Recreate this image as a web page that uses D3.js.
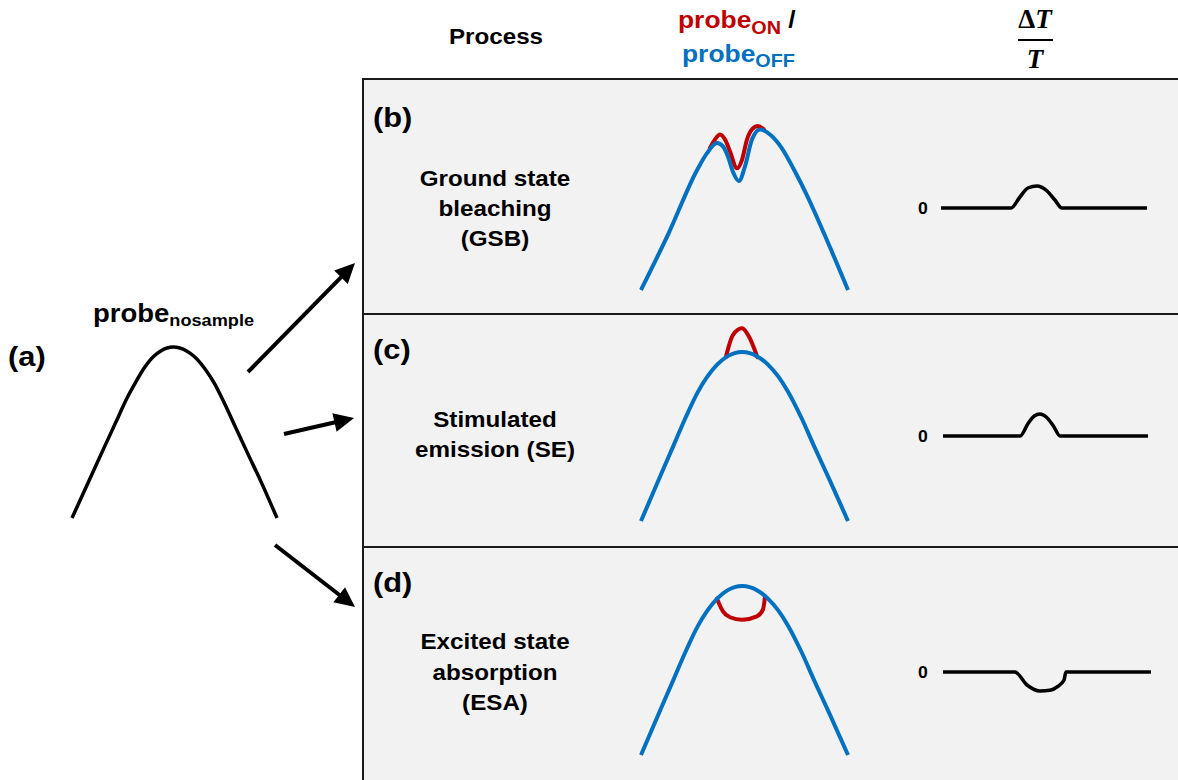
<!DOCTYPE html>
<html>
<head>
<meta charset="utf-8">
<script src="https://cdn.jsdelivr.net/npm/d3@7"></script>
<style>
  body { margin: 0; background: #fff; }
  text { font-family: "Liberation Sans", Arial, sans-serif; font-weight: bold; }
</style>
</head>
<body>
<svg id="fig"></svg>
<script>
// spectra are [position, intensity] pairs, 0..10 across, 0..1 high
var probeNoSample = [[0,0],[0.99,0.26],[1.56,0.41],[2.12,0.555],[2.68,0.7],[3.06,0.784],[3.48,0.87],[3.99,0.946],
    [4.33,0.977],[4.93,1.0],[5.59,0.977],[5.95,0.946],[6.5,0.87],[6.96,0.784],[7.36,0.69],[7.98,0.53],[8.58,0.375],
    [9.19,0.22],[10,0]];

var offGsb = [[0,0],[1.35,0.34],[2.71,0.71],[3.19,0.81],[3.67,0.87],[3.96,0.85],[4.2,0.79],[4.44,0.7],
    [4.73,0.645],[5.02,0.73],[5.36,0.89],[5.75,0.95],[6.23,0.92],[6.8,0.84],[7.4,0.71],[8.0,0.565],[9.0,0.29],[10,0]];
var onGsb = [[3.33,0.84],[3.57,0.89],[3.82,0.92],[4.06,0.89],[4.3,0.82],[4.64,0.72],[4.88,0.77],[5.12,0.89],
    [5.36,0.95],[5.65,0.97],[5.94,0.95]];

var offSpectrum = [[0,0],[0.85,0.243],[1.57,0.446],[2.14,0.608],[2.75,0.764],[3.22,0.857],[3.69,0.927],[4.17,0.974],
    [4.88,1.0],[5.62,0.974],[6.12,0.927],[6.62,0.857],[7.11,0.764],[7.76,0.608],[8.35,0.446],[9.11,0.243],[10,0]];
var onSE = [[4.1,0.97],[4.44,1.1],[4.88,1.14],[5.22,1.09],[5.62,0.97]];
var onESA = [[3.67,0.925],[3.96,0.85],[4.3,0.815],[4.88,0.8],[5.6,0.82],[5.89,0.86],[5.99,0.935]];

// ΔT/T traces
var dtGsb = [[0,0],[3.4,0],[3.83,0.44],[4.22,0.8],[4.66,0.88],[5.15,0.68],[5.53,0.32],[5.87,0],[10,0]];
var dtSE = [[0,0],[3.76,0],[4.15,0.5],[4.45,0.8],[4.73,0.88],[5.05,0.75],[5.4,0.38],[5.71,0],[10,0]];
var dtESA = [[0,0],[3.46,0],[4.04,-0.52],[4.66,-0.76],[5.2,-0.72],[5.48,-0.6],[5.82,-0.32],[5.91,0],[10,0]];

var panelTags = ['(b)', '(c)', '(d)'];
var processLabels = [['Ground state', 'bleaching', '(GSB)'], ['Stimulated', 'emission (SE)'], ['Excited state', 'absorption', '(ESA)']];

var W = 1178, H = 780;
var RED = '#c00000', BLUE = '#0070c0', SX = 1.1;

var svg = d3.select('#fig').attr('width', W).attr('height', H);

var line = function(x, y) {
    return d3.line().x(function(d) { return x(d[0]); }).y(function(d) { return y(d[1]); }).curve(d3.curveMonotoneX);
};

// stretched bold text, like the original
function label(x, y, anchor, size, parts) {
    var t = svg.append('text')
        .attr('transform', 'translate(' + x + ',' + y + ') scale(' + SX + ',1)')
        .attr('text-anchor', anchor)
        .style('font-size', size + 'px');
    parts.forEach(function(p) {
        t.append('tspan').text(p.t)
            .attr('dy', p.dy || 0)
            .style('font-size', (p.size || size) + 'px')
            .attr('fill', p.fill || '#000');
    });
    return t;
}

// panel frame
svg.append('rect').attr('x', 363).attr('y', 79).attr('width', 900).attr('height', 800)
    .attr('fill', '#f2f2f2').attr('stroke', '#1a1a1a').attr('stroke-width', 2);
[314, 547].forEach(function(yy) {
    svg.append('line').attr('x1', 363).attr('x2', W).attr('y1', yy).attr('y2', yy)
        .attr('stroke', '#1a1a1a').attr('stroke-width', 2);
});

// headers
label(496, 44, 'middle', 22, [{t: 'Process'}]);
label(678, 28, 'start', 24, [{t: 'probe', fill: RED}, {t: 'ON', size: 18, dy: 6, fill: RED}, {t: ' /', dy: -6}]);
label(682, 62, 'start', 24, [{t: 'probe', fill: BLUE}, {t: 'OFF', size: 18, dy: 5, fill: BLUE}]);

var frac = svg.append('g').style('font-family', '"Liberation Serif", "DejaVu Serif", serif');
frac.append('text').attr('x', 1035).attr('y', 28).attr('text-anchor', 'middle')
    .style('font-family', 'inherit').style('font-size', '27px')
    .html('<tspan>Δ</tspan><tspan font-style="italic">T</tspan>');
frac.append('line').attr('x1', 1018).attr('x2', 1053).attr('y1', 40).attr('y2', 40)
    .attr('stroke', '#000').attr('stroke-width', 2);
frac.append('text').attr('x', 1035).attr('y', 68).attr('text-anchor', 'middle')
    .style('font-family', 'inherit').style('font-size', '27px').style('font-style', 'italic').text('T');

// (a) probe without sample
label(8, 366, 'start', 28, [{t: '(a)'}]);
label(93, 322, 'start', 25, [{t: 'probe'}, {t: 'nosample', size: 16.5, dy: 4}]);

var xa = d3.scaleLinear().domain([0, 10]).range([72, 277]);
var ya = d3.scaleLinear().domain([0, 1]).range([518, 347]);
svg.append('path').attr('d', line(xa, ya)(probeNoSample))
    .attr('fill', 'none').attr('stroke', '#000').attr('stroke-width', 3.5);

// arrows
var arrows = [[[248, 372], [355, 263]], [[284, 434], [354, 418]], [[275, 545], [355, 607]]];
arrows.forEach(function(a) {
    var dx = a[1][0] - a[0][0], dy = a[1][1] - a[0][1];
    var len = Math.sqrt(dx * dx + dy * dy), ux = dx / len, uy = dy / len;
    var hl = 20, hw = 9.5;
    var bx = a[1][0] - ux * hl, by = a[1][1] - uy * hl;
    svg.append('line').attr('x1', a[0][0]).attr('y1', a[0][1]).attr('x2', bx + ux * 2).attr('y2', by + uy * 2)
        .attr('stroke', '#000').attr('stroke-width', 4);
    svg.append('path')
        .attr('d', 'M' + a[1][0] + ',' + a[1][1] + 'L' + (bx - uy * hw) + ',' + (by + ux * hw) +
            'L' + (bx + uy * hw) + ',' + (by - ux * hw) + 'Z')
        .attr('fill', '#000');
});

// panels b, c, d
var panels = [
    {base: 290, tagY: 127, procY: [186, 216, 246], off: offGsb, on: onGsb, dt: dtGsb, dtBase: 208, dtRange: [941, 1147]},
    {base: 521, tagY: 359, procY: [427, 457], off: offSpectrum, on: onSE, dt: dtSE, dtBase: 436, dtRange: [943, 1148]},
    {base: 755, tagY: 592, procY: [649, 680, 710], off: offSpectrum, on: onESA, dt: dtESA, dtBase: 672, dtRange: [943, 1151]}
];

panels.forEach(function(p, i) {
    label(373, p.tagY, 'start', 28, [{t: panelTags[i]}]);
    processLabels[i].forEach(function(s, k) {
        label(495, p.procY[k], 'middle', 22, [{t: s}]);
    });

    var x = d3.scaleLinear().domain([0, 10]).range([641, 848]);
    var y = d3.scaleLinear().domain([0, 1]).range([p.base, p.base - 169]);
    svg.append('path').attr('d', line(x, y)(p.on))
        .attr('fill', 'none').attr('stroke', RED).attr('stroke-width', 4).attr('stroke-linecap', 'round');
    svg.append('path').attr('d', line(x, y)(p.off))
        .attr('fill', 'none').attr('stroke', BLUE).attr('stroke-width', 4);

    var xt = d3.scaleLinear().domain([0, 10]).range(p.dtRange);
    var yt = d3.scaleLinear().domain([0, 1]).range([p.dtBase, p.dtBase - 25]);
    label(923, p.dtBase + 6, 'middle', 16, [{t: '0'}]);
    svg.append('path').attr('d', line(xt, yt)(p.dt))
        .attr('fill', 'none').attr('stroke', '#000').attr('stroke-width', 3.5);
});
</script>
</body>
</html>
